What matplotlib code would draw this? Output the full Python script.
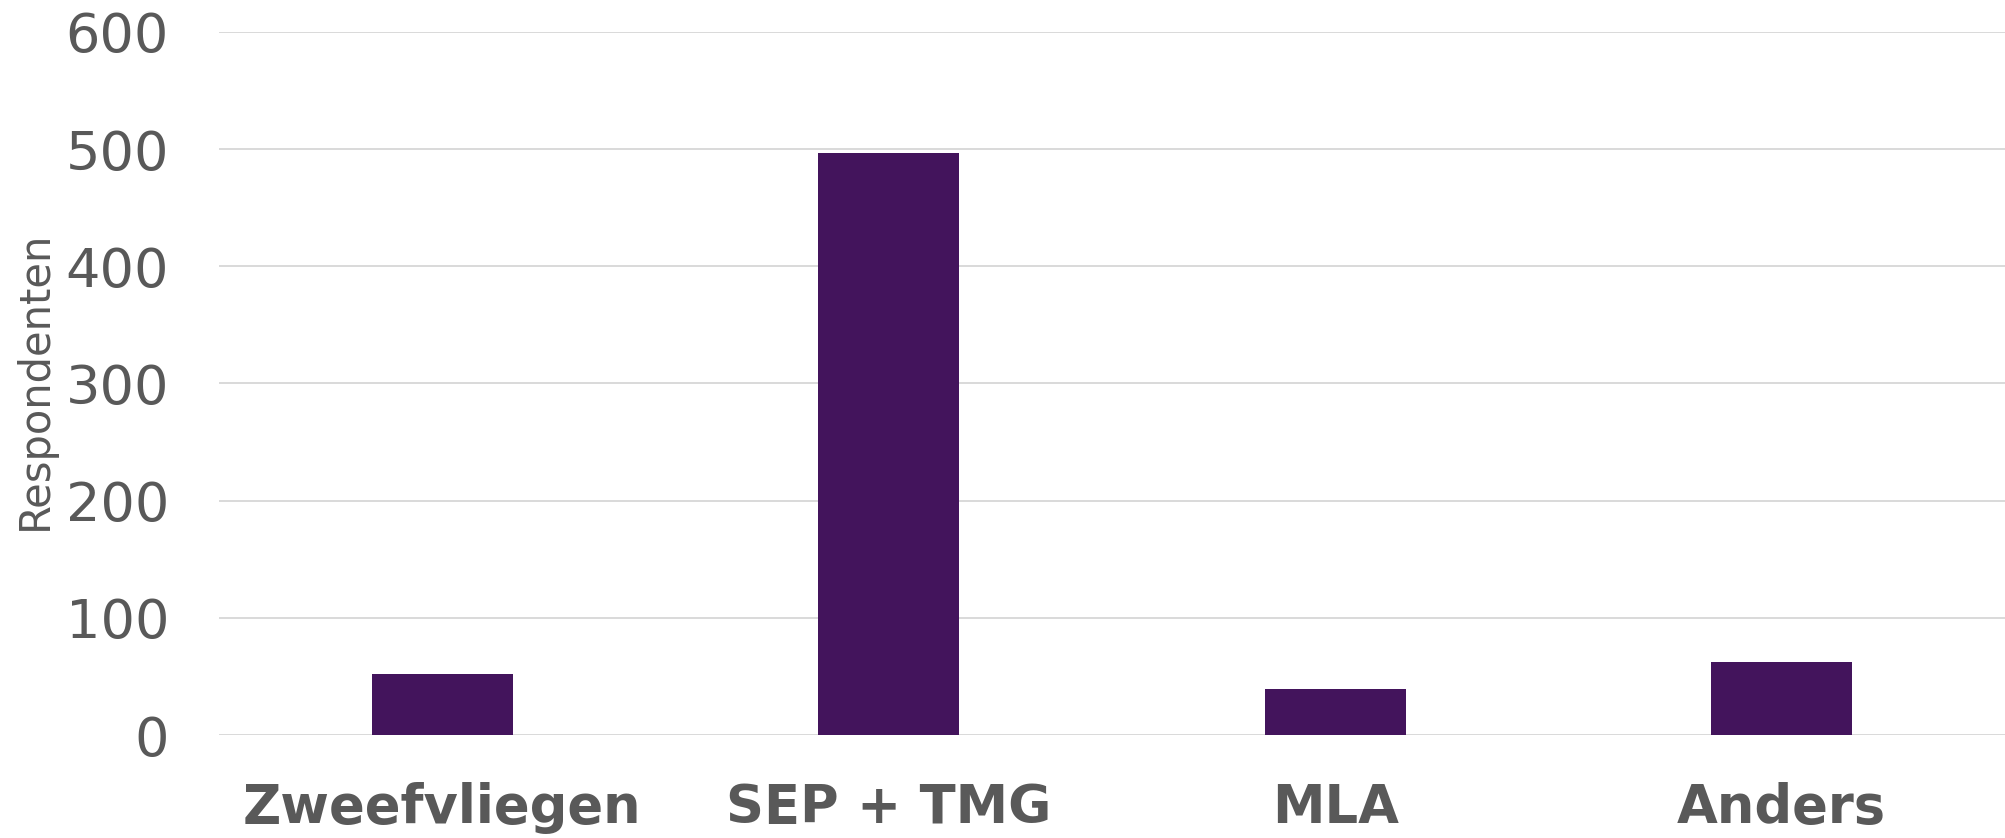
import matplotlib
matplotlib.use("Agg")
import matplotlib.pyplot as plt

categories = ["Zweefvliegen", "SEP + TMG", "MLA", "Anders"]
values = [52, 497, 39, 62]
yticks = [0, 100, 200, 300, 400, 500, 600]

W, H, DPI = 2005, 838, 100
fig = plt.figure(figsize=(W / DPI, H / DPI), dpi=DPI)
ax = fig.add_axes([219 / W, (H - 735) / H, (W - 219) / W, (735 - 32) / H])

gray = "#595959"
ax.bar(range(len(categories)), values, width=0.315, color="#43145C", zorder=3)

ax.set_xlim(-0.5, len(categories) - 0.5)
ax.set_ylim(0, 600)
ax.set_yticks(yticks)
ax.set_yticklabels([str(t) for t in yticks], fontsize=39, color=gray)
ax.set_xticks(range(len(categories)))
ax.set_xticklabels(categories, fontsize=38, fontweight="bold", color=gray)
ax.tick_params(axis="y", length=0, pad=36)
ax.tick_params(axis="x", length=0, pad=34)
ax.grid(axis="y", color="#D9D9D9", linewidth=1.4, zorder=0)
for s in ax.spines.values():
    s.set_visible(False)
ax.set_ylabel("Respondenten", fontsize=30, color=gray)
ax.yaxis.set_label_coords((56 - 219) / (W - 219), 0.505)

fig.savefig("out.png", dpi=DPI, facecolor="white")
